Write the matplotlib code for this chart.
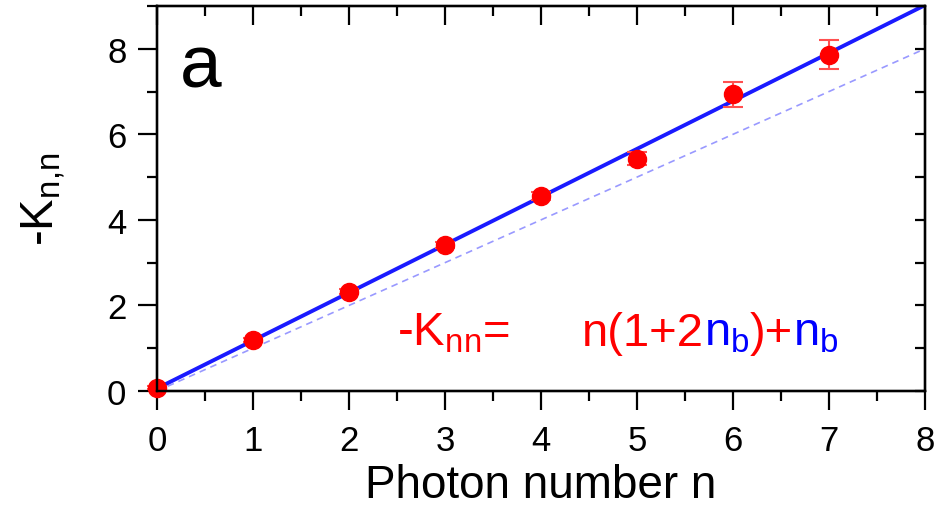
import numpy as np
import matplotlib
matplotlib.use('Agg')
import matplotlib.pyplot as plt
from matplotlib.ticker import MultipleLocator
import matplotlib.transforms as mtransforms

plt.rcParams['font.family'] = ['Liberation Sans', 'DejaVu Sans']
plt.rcParams['mathtext.fontset'] = 'custom'
plt.rcParams['mathtext.rm'] = 'Liberation Sans'
plt.rcParams['mathtext.it'] = 'Liberation Sans'

# measured -K_nn per photon number
photon_n = [0, 1, 2, 3, 4, 5, 6, 7]
k_nn = [0.08, 1.19, 2.32, 3.42, 4.56, 5.43, 6.94, 7.86]
k_err = [0.03, 0.05, 0.06, 0.07, 0.1, 0.15, 0.29, 0.34]
n_b = 0.06  # thermal occupation used in the fit

fit_x = np.array([0, 8])
fit_y = fit_x * (1 + 2 * n_b) + n_b

fig = plt.figure(figsize=(9.37, 5.10), dpi=100)
ax = fig.add_axes([0.1676, 0.2314, 0.8196, 0.7549])

ax.plot(fit_x, fit_x, '--', color='#8080ff', lw=1.2, alpha=0.8, dashes=(4, 3))
ax.plot(fit_x, fit_y, '-', color='#1a1aff', lw=2.8)
ax.errorbar(photon_n, k_nn, yerr=k_err, fmt='o', color='red', ms=13,
            ecolor='#ff5050', elinewidth=1.5, capsize=7, capthick=1.5, clip_on=False, zorder=5)

ax.set_xlim(0, 8)
ax.set_ylim(0, 9)
ax.xaxis.set_major_locator(MultipleLocator(1))
ax.xaxis.set_minor_locator(MultipleLocator(0.5))
ax.yaxis.set_major_locator(MultipleLocator(2))
ax.yaxis.set_minor_locator(MultipleLocator(1))

for sp in ax.spines.values():
    sp.set_linewidth(1.6)
ax.tick_params(which='both', width=1.6, labelsize=25, top=False, right=False, direction='out')
ax.tick_params(which='major', length=14)
ax.tick_params(which='minor', length=7)
ax.tick_params(axis='x', which='major', pad=10)
ax.tick_params(axis='y', which='major', pad=8)

# mirrored inward ticks on top and right
ax2 = ax.twinx()
ax2.set_ylim(ax.get_ylim())
ax2.yaxis.set_major_locator(MultipleLocator(1))
ax2.tick_params(which='both', direction='in', length=7, width=1.6, labelright=False)
ax3 = ax.twiny()
ax3.set_xlim(ax.get_xlim())
ax3.xaxis.set_major_locator(MultipleLocator(1))
ax3.xaxis.set_minor_locator(MultipleLocator(0.5))
ax3.tick_params(which='major', direction='in', length=14, width=1.6, labeltop=False)
ax3.tick_params(which='minor', direction='in', length=7, width=1.6)
for a in (ax2, ax3):
    for sp in a.spines.values():
        sp.set_linewidth(1.6)

ax.set_xlabel('Photon number n', fontsize=33, labelpad=4)
ax.set_ylabel(r'-K$_{\mathregular{n{,}n}}$', fontsize=34, labelpad=28)

ax.text(0.03, 0.93, 'a', transform=ax.transAxes, fontsize=54, va='top', ha='left')

# coloured formula, pieces placed one after another
fig.canvas.draw()
renderer = fig.canvas.get_renderer()

def piece_row(x0, y0, pieces):
    trans = ax.transData
    off = 0
    for s, c in pieces:
        t = ax.text(x0, y0, s, color=c, fontsize=34, va='baseline', ha='left',
                    transform=mtransforms.offset_copy(trans, fig=fig, x=off, y=0, units='dots'))
        off += t.get_window_extent(renderer).width

piece_row(2.5, 1.08, [(r'-K$_{\mathregular{nn}}$=', 'red')])
piece_row(4.43, 1.08, [('n(1+2', 'red'), (r'n$_{\mathregular{b}}$', 'blue'),
                       (')+', 'red'), (r'n$_{\mathregular{b}}$', 'blue')])

fig.savefig('out.png', dpi=100)
